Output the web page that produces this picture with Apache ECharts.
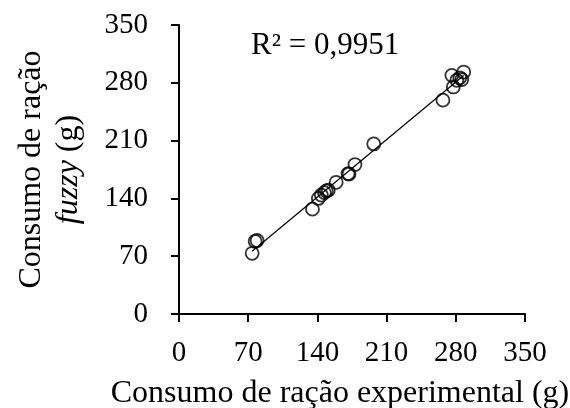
<!DOCTYPE html>
<html>
<head>
<meta charset="utf-8">
<script src="https://cdn.jsdelivr.net/npm/echarts@6/dist/echarts.min.js"></script>
<style>html,body{margin:0;padding:0;background:#fff}#c{width:570px;height:408px}</style>
</head>
<body>
<div id="c"></div>
<script>
// Experimental (x) vs fuzzy (y) feed intake, g
var expValues   = [74, 77, 79, 135, 141, 144, 147, 149, 151, 159, 171, 172, 178, 197, 267, 277.5, 276, 281, 284, 286, 288];
var fuzzyValues = [73.5, 88, 89, 127, 140, 144, 147, 149, 150, 159.5, 170, 169.5, 181, 206, 259, 275, 289, 283, 286, 284, 293];
var axisTicks = [0, 70, 140, 210, 280, 350];
var r2Label = 'R² = 0,9951';

var pts = expValues.map(function (x, i) { return [x, fuzzyValues[i]]; });
// least-squares trendline over the data range
var n = pts.length, sx = 0, sy = 0, sxx = 0, sxy = 0;
pts.forEach(function (p) { sx += p[0]; sy += p[1]; sxx += p[0] * p[0]; sxy += p[0] * p[1]; });
var b = (n * sxy - sx * sy) / (n * sxx - sx * sx);
var a = (sy - b * sx) / n;
var xmin = Math.min.apply(null, expValues), xmax = Math.max.apply(null, expValues);
var trend = [[xmin, a + b * xmin], [xmax, a + b * xmax]];

var font = '"Liberation Serif","Times New Roman",serif';
var chart = echarts.init(document.getElementById('c'));
chart.setOption({
  animation: false,
  backgroundColor: '#fff',
  grid: { left: 179, right: 45, top: 25, bottom: 94, containLabel: false, outerBoundsMode: 'none' },
  xAxis: {
    type: 'value', min: 0, max: 350, interval: 70,
    splitLine: { show: false },
    axisLine: { show: true, lineStyle: { color: '#000', width: 2 } },
    axisTick: { show: true, length: 8, lineStyle: { color: '#000', width: 2 } },
    axisLabel: { color: '#000', fontFamily: font, fontSize: 29, margin: 25 },
    name: 'Consumo de ração experimental (g)',
    nameLocation: 'middle', nameGap: 64,
    nameTextStyle: { color: '#000', fontFamily: font, fontSize: 32, padding: [0, 24, 0, 0] }
  },
  yAxis: {
    type: 'value', min: 0, max: 350, interval: 70,
    splitLine: { show: false },
    axisLine: { show: true, lineStyle: { color: '#000', width: 2 } },
    axisTick: { show: true, length: 8, lineStyle: { color: '#000', width: 2 } },
    axisLabel: { color: '#000', fontFamily: font, fontSize: 29, margin: 31 },
    name: '{a|Consumo de ração}\n{i|fuzzy}{a| (g)}',
    nameLocation: 'middle', nameGap: 92, nameRotate: 90,
    nameTextStyle: {
      color: '#000', fontFamily: font, fontSize: 32, lineHeight: 37,
      rich: {
        a: { color: '#000', fontFamily: font, fontSize: 32, lineHeight: 37 },
        i: { color: '#000', fontFamily: font, fontSize: 32, lineHeight: 37, fontStyle: 'italic' }
      }
    }
  },
  series: [
    {
      type: 'line', data: trend, symbol: 'none', silent: true,
      lineStyle: { color: '#000', width: 1.2 }, z: 1
    },
    {
      type: 'scatter', data: pts, symbol: 'circle', symbolSize: 13,
      itemStyle: { color: 'rgba(255,255,255,0)', borderColor: '#000', borderWidth: 1.8 }, z: 2
    }
  ],
  graphic: [{
    type: 'text', left: 251, top: 30,
    style: { text: r2Label, fill: '#000', font: '31px ' + font }
  }]
});
</script>
</body>
</html>
